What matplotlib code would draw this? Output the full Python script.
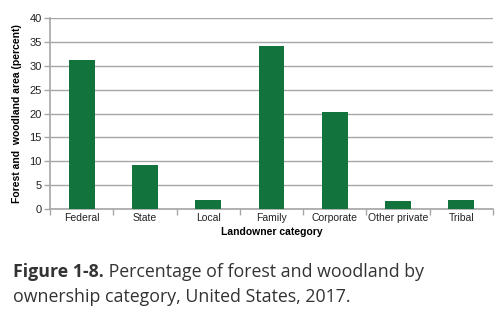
import matplotlib
matplotlib.use("Agg")
import matplotlib.pyplot as plt
from matplotlib import font_manager

categories = ['Federal', 'State', 'Local', 'Family', 'Corporate', 'Other private', 'Tribal']
percent = [31.2, 9.2, 1.9, 34.1, 20.3, 1.7, 1.9]
yticks = [0, 5, 10, 15, 20, 25, 30, 35, 40]

names = {f.name for f in font_manager.fontManager.ttflist}
narrow = 'Liberation Sans Narrow' if 'Liberation Sans Narrow' in names else 'Liberation Sans'
lab_size = 8.5 if narrow == 'Liberation Sans Narrow' else 7.5

green = '#13733c'
grid = '#a6a6a6'

fig = plt.figure(figsize=(5, 3.33), dpi=100)
ax = fig.add_axes([0.1, 0.372, 0.886, 0.574])

x = list(range(len(categories)))
ax.bar(x, percent, width=0.41, color=green, zorder=3)
ax.set_xlim(-0.5, len(categories) - 0.5)
ax.set_ylim(0, 40)
ax.set_yticks(yticks)
ax.set_yticklabels([str(t) for t in yticks], fontfamily=narrow, fontsize=lab_size + 0.5, color='#222222')
ax.yaxis.grid(True, color=grid, linewidth=1, zorder=0)

# categories labelled at centers, tick marks on the boundaries
ax.set_xticks(x)
ax.set_xticklabels(categories, fontfamily=narrow, fontsize=lab_size, color='#222222')
ax.tick_params(axis='x', length=0, pad=3)
ax.set_xticks([i - 0.5 for i in range(len(categories) + 1)], minor=True)
ax.tick_params(axis='x', which='minor', length=4, color=grid, width=1)
ax.tick_params(axis='y', length=4, color=grid, width=1, pad=2)

for s in ['top', 'right']:
    ax.spines[s].set_visible(False)
for s in ['left', 'bottom']:
    ax.spines[s].set_color(grid)
    ax.spines[s].set_linewidth(1.2)

ax.set_ylabel('Forest and  woodland area (percent)', fontfamily=narrow, fontsize=lab_size,
              fontweight='bold', labelpad=5)
ax.set_xlabel('Landowner category', fontfamily=narrow, fontsize=lab_size, fontweight='bold', labelpad=3)

# caption, bold lead then regular text
fig.canvas.draw()
r = fig.canvas.get_renderer()
cap = dict(fontfamily='Open Sans', fontsize=12.8, color='#333333', va='baseline')
t1 = fig.text(13 / 500, 1 - 277 / 333, 'Figure 1-8.', fontweight='bold', **cap)
bb = t1.get_window_extent(r)
fig.text(bb.x1 / 500, 1 - 277 / 333, ' Percentage of forest and woodland by', **cap)
fig.text(13 / 500, 1 - 302 / 333, 'ownership category, United States, 2017.', **cap)

fig.savefig('out.png', dpi=100)
